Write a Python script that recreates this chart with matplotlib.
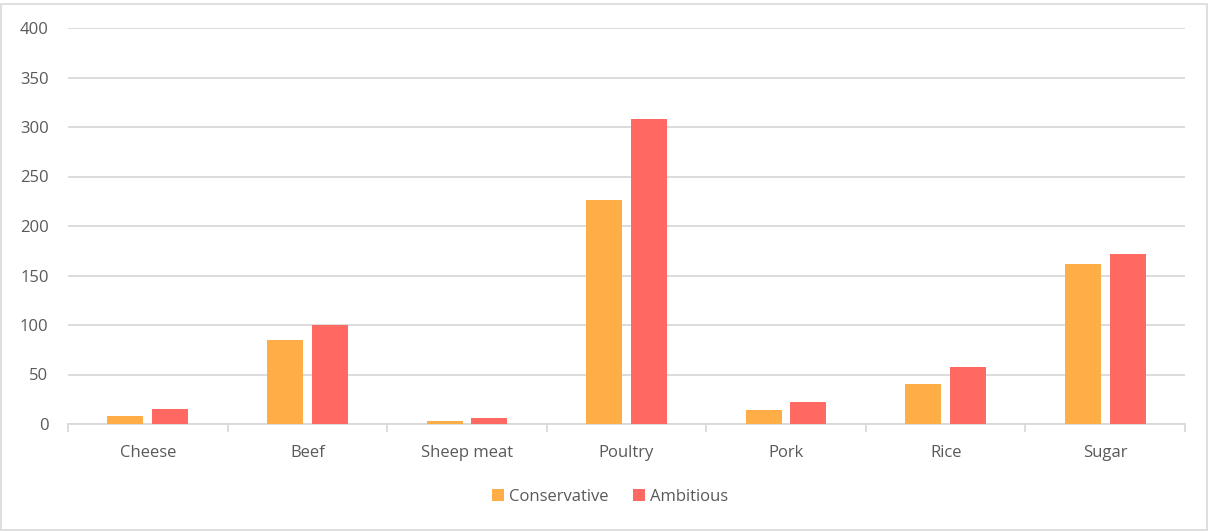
import matplotlib.pyplot as plt
import numpy as np
from matplotlib.patches import Rectangle

categories = ["Cheese", "Beef", "Sheep meat", "Poultry", "Pork", "Rice", "Sugar"]
conservative = [8, 85, 3.5, 226, 14, 40, 162]
ambitious = [15.5, 100, 6, 308, 22, 58, 172]
y_ticks = [0, 50, 100, 150, 200, 250, 300, 350, 400]

text_color = "#595959"
grid_color = "#D9D9D9"

plt.rcParams["font.family"] = ["Open Sans", "DejaVu Sans"]

fig = plt.figure(figsize=(12.08, 5.31), dpi=100)
ax = fig.add_axes([68 / 1208, 1 - 424 / 531, (1185 - 68) / 1208, (424 - 28) / 531])

x = np.arange(len(categories))
width = 0.225
offset = 0.14
ax.bar(x - offset, conservative, width, color="#FFAD47", label="Conservative", zorder=3)
ax.bar(x + offset, ambitious, width, color="#FF6961", label="Ambitious", zorder=3)

ax.set_xlim(-0.5, len(categories) - 0.5)
ax.set_ylim(0, 400)
ax.set_yticks(y_ticks)
ax.yaxis.grid(True, color=grid_color, linewidth=1.3, zorder=0)
ax.tick_params(axis="y", length=0, pad=14, labelsize=12, labelcolor=text_color)

ax.set_xticks(x)
ax.set_xticklabels(categories)
ax.set_xticks(np.arange(len(categories) + 1) - 0.5, minor=True)
ax.tick_params(axis="x", which="major", length=0, pad=15, labelsize=12, labelcolor=text_color)
ax.tick_params(axis="x", which="minor", length=6, color=grid_color, width=1.3)

for side in ["left", "right", "top"]:
    ax.spines[side].set_visible(False)
ax.spines["bottom"].set_color(grid_color)
ax.spines["bottom"].set_linewidth(1.3)

leg = fig.legend(loc="center", bbox_to_anchor=(610 / 1208, 1 - 497 / 531), ncol=2, frameon=False,
                 fontsize=12, handlelength=0.7, handleheight=0.7, handletextpad=0.3,
                 columnspacing=1.5)
for t in leg.get_texts():
    t.set_color(text_color)

fig.patches.append(Rectangle((0.001, 0.002), 0.998, 0.99, transform=fig.transFigure,
                             fill=False, edgecolor="#D9D9D9", linewidth=1.2))

fig.savefig("out.png", dpi=100)
